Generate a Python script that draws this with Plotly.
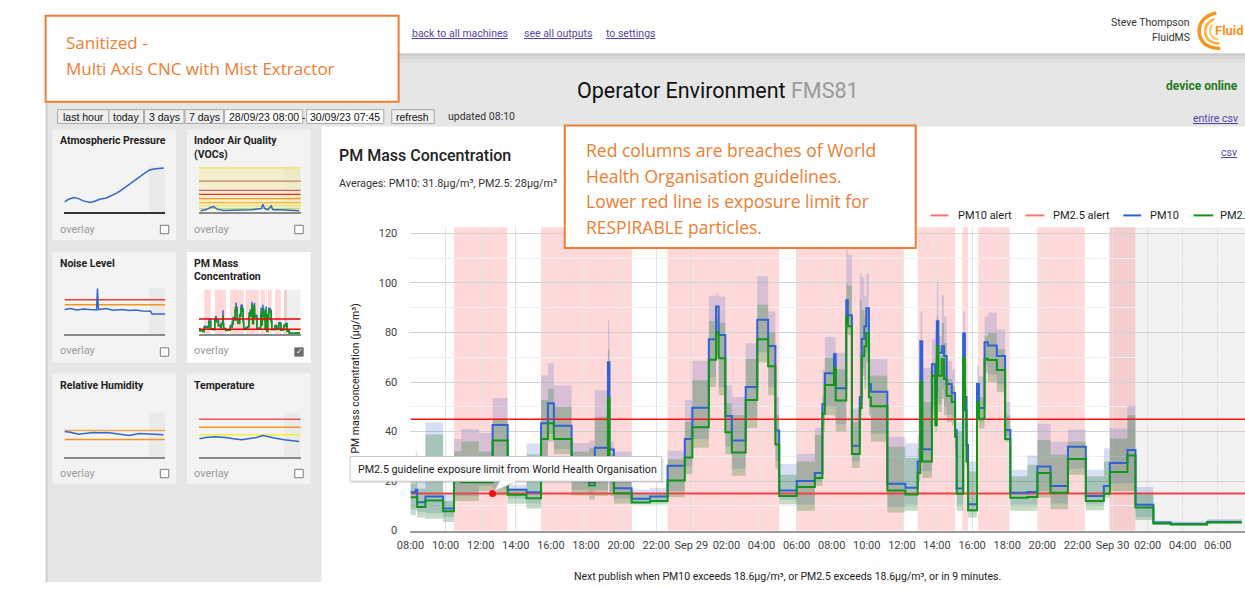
import pandas as pd
import plotly.graph_objects as go

W, H = 1245, 589
def X(p): return p / W
def Y(p): return 1 - p / H

# ---------------- main chart data (hours after 28/09/23 08:00) ----------------
seg_start_h = [0.00, 0.30, 0.38, 0.85, 1.86, 2.48, 2.90, 3.89, 4.68, 5.54, 6.61, 7.44, 7.83, 8.17, 9.18,
               10.18, 10.50, 11.25, 11.34, 11.59, 12.60, 13.65, 14.65, 15.63, 16.06, 17.00, 17.41, 17.56,
               17.94, 18.31, 19.10, 19.76, 20.38, 20.79, 21.01, 22.01, 23.04, 23.47, 23.61, 24.13, 24.23,
               24.83, 24.92, 25.15, 25.60, 25.71, 25.86, 25.97, 26.12, 26.23, 27.17, 28.20, 28.90, 29.05,
               29.16, 29.71, 29.90, 29.99, 30.08, 30.27, 30.40, 30.55, 30.84, 31.03, 31.12, 31.49, 31.59,
               31.68, 31.77, 32.28, 32.39, 32.71, 32.90, 33.41, 33.88, 34.18, 35.15, 35.72, 36.47, 37.46,
               38.48, 39.51, 39.85, 40.85, 41.31, 42.33, 43.32, 45.39]
data_end_h = 47.36

pm10 = [15.5, 16.5, 11.5, 13.8, 8.9, 24.0, 22.5, 23.0, 42.7, 16.5, 15.5, 43.4, 51.4, 42.3, 27.0,
        19.5, 33.5, 68.0, 32.8, 17.1, 12.9, 13.8, 26.2, 37.0, 49.6, 77.3, 90.5, 79.0,
        46.3, 36.4, 58.0, 85.2, 74.6, 40.4, 16.2, 20.0, 23.3, 51.0, 63.5, 71.2, 57.5,
        93.0, 87.0, 34.3, 53.9, 77.4, 82.5, 89.8, 59.2, 56.1, 18.9, 17.3, 27.9, 76.5,
        32.9, 67.2, 54.0, 84.5, 71.8, 74.5, 70.5, 59.2, 55.6, 40.6, 17.0, 79.6, 54.0,
        34.6, 10.6, 59.2, 49.5, 76.1, 74.8, 70.5, 40.6, 15.3, 15.6, 25.9, 18.0, 33.9,
        14.0, 18.0, 27.3, 32.6, 10.4, 3.3, 2.7, 3.5]
pm25 = [13.5, 13.5, 9.5, 12.2, 7.8, 20.0, 19.5, 19.5, 36.4, 14.5, 13.1, 37.0, 43.4, 37.0, 24.0,
        18.2, 28.0, 53.6, 28.0, 15.1, 11.4, 12.0, 20.2, 29.5, 41.7, 69.0, 80.0, 69.6,
        39.7, 31.5, 52.7, 77.3, 66.4, 34.8, 14.0, 17.6, 21.3, 47.2, 58.8, 65.8, 52.5,
        86.5, 82.5, 30.9, 49.5, 70.5, 74.5, 79.8, 53.9, 50.2, 16.2, 14.6, 23.3, 59.9,
        27.9, 62.5, 42.6, 74.5, 62.5, 69.2, 61.2, 54.5, 51.9, 37.9, 14.9, 69.8, 48.6,
        27.9, 8.2, 51.9, 45.2, 69.4, 68.9, 64.9, 37.0, 13.3, 13.6, 23.3, 15.3, 28.9,
        12.0, 14.9, 23.7, 30.3, 9.3, 2.9, 2.5, 3.3]
pm10_hi = [22, 32, 20, 43.8, 15, 37, 41, 39.4, 53.6, 18.5, 35.3, 62.7, 67.6, 58.7, 35.4,
           36.4, 56.7, 85, 36, 32, 16.5, 17.3, 32.4, 52.7, 68.6, 94.8, 96, 94.5,
           58.7, 54, 75.7, 102.7, 88.5, 54, 26.9, 30.9, 41.5, 65.2, 78.2, 78, 71.8,
           113.7, 111.5, 49.2, 103.8, 102.4, 94.5, 103.8, 69.2, 69.2, 37.9, 35.3, 38.6, 88.5,
           65.8, 77.2, 79.8, 100.4, 78.5, 95.1, 86.5, 68.5, 65.2, 43.9, 43.9, 88.5, 67.2,
           46.6, 27.9, 66.5, 62.5, 86.5, 88, 81.2, 51.9, 24.6, 30.3, 43.2, 35.9, 40.8,
           24.6, 33.3, 41.2, 50.5, 17.6, 4.0, 3.7, 4.7]
pm25_hi = [19, 20, 17, 38.8, 12, 32, 36, 32, 45.4, 17, 30.8, 52.7, 57.3, 50, 31.9,
           33.5, 46, 73, 31, 25.5, 14.9, 15.1, 28.8, 44, 60.7, 84.6, 86, 83.9,
           51.4, 46.7, 69.3, 91.2, 80, 46.7, 22.6, 27.9, 38.6, 54.5, 69.8, 72, 65.2,
           99.8, 99, 43.9, 93, 89, 86.5, 89, 62.5, 62.5, 33.9, 29.3, 33.3, 74.5,
           51.9, 67.8, 70, 86.5, 70.5, 83.8, 75.8, 61.2, 58.5, 39.9, 39.9, 78.5, 57.2,
           38.6, 23.9, 57.2, 53.9, 78.5, 79.8, 73.2, 46.6, 22, 26.6, 36.6, 30.6, 35.9,
           22, 27.9, 37.2, 46.6, 15.3, 3.6, 3.3, 4.2]
pm10_lo = [8.5, 10, 7.5, 7, 5.5, 14, 14, 18, 17, 13, 11, 28, 39, 33, 16.5,
           14.5, 16.5, 34, 16, 13, 11.5, 11.5, 16, 26, 37, 62, 74, 58,
           34, 25, 45, 72, 58, 28, 12.5, 10.5, 20, 43, 50, 50, 43,
           84, 82, 28, 48, 66, 61, 72, 50, 39, 9.5, 10.5, 22.5, 45,
           24, 50, 43, 56, 51, 57, 50, 47, 46, 33, 10.5, 56, 44,
           28, 7.5, 50, 44, 67, 63, 59, 38, 10.5, 10.5, 16, 11, 25,
           10.5, 15.5, 19, 19, 5.5, 2.7, 2.4, 3.2]
pm25_lo = [6.2, 8, 5.3, 4.8, 3.5, 12, 12, 16, 14.2, 10.9, 8.9, 25, 36, 30.8, 14.2,
           12.6, 14, 30, 14, 10.9, 10.5, 10.5, 13.5, 22.8, 33.5, 58, 70.6, 54.7,
           30.8, 22.2, 41.4, 68, 54.7, 24.8, 10.6, 8, 18, 40, 46.6, 46, 40,
           80, 79, 25.3, 45, 62.5, 57.2, 67.8, 46.6, 35.9, 7.3, 8, 20, 41.2,
           21.3, 46.6, 40, 51.9, 47.9, 53.2, 46.6, 43.9, 42.6, 30.6, 8, 51.9, 41.2,
           25.3, 5.3, 46.6, 41.2, 63.9, 59.9, 55.9, 35.9, 8, 8, 13.3, 8.6, 22.6,
           8.2, 13.3, 16, 16, 4.3, 2.4, 2.1, 2.9]

breach_start_h = [2.48, 7.44, 14.65, 21.97, 28.90, 31.44, 32.34, 35.72, 39.83]
breach_end_h = [5.52, 12.62, 21.01, 28.11, 31.04, 31.77, 34.14, 38.42, 41.30]
future_start_h = 39.83
pm10_alert = 45
pm25_alert = 15
tooltip_point_h = 4.68

tick_hours = list(range(0, 47, 2))
tick_labels = ["08:00", "10:00", "12:00", "14:00", "16:00", "18:00", "20:00", "22:00", "Sep 29",
               "02:00", "04:00", "06:00", "08:00", "10:00", "12:00", "14:00", "16:00", "18:00",
               "20:00", "22:00", "Sep 30", "02:00", "04:00", "06:00"]
day_lines_h = [16, 40]

# ---------------- thumbnail data ----------------
pressure_h = [0, 2, 4.3, 6.7, 9, 12.1, 14.4, 16.7, 19.8, 22.2, 24.5, 26.8, 29.1, 31.5, 33.8, 36.1, 38.4, 40, 42.3, 44.6, 47]
pressure = [1013.2, 1014.0, 1014.5, 1014.2, 1013.5, 1013.0, 1013.4, 1014.0, 1014.4, 1015.0, 1015.8, 1016.7,
            1017.8, 1018.8, 1020.0, 1021.0, 1022.0, 1022.8, 1023.2, 1023.4, 1023.5]
voc_h = [0.8, 3.1, 5.4, 6.9, 8.5, 11.6, 15.4, 20, 24.6, 29.3, 30, 30.8, 32.3, 33.9, 34.7, 38.5, 43.1, 47]
voc = [5, 8, 15, 18, 10, 6, 7, 8, 8, 12, 25, 12, 8, 20, 8, 8, 6, 5]
voc_levels = [135, 95, 67, 55, 42, 30, 20, 12]
voc_colors = ["#f1e65a", "#b5895a", "#c9607a", "#ee2a2a", "#f7941d", "#fbb03b", "#f5e663", "#c6e04a"]
noise_h = [0, 2.8, 5.9, 9, 12.1, 15.2, 15.65, 16.1, 19.8, 22.9, 27.6, 30.7, 33.8, 36.9, 40.8, 41.5, 47.75]
noise = [75, 78, 74, 77, 75, 74, 140, 75, 78, 73, 75, 72, 74, 71, 70, 62, 62]
noise_levels = [105, 90]
noise_colors = ["#ef3b3b", "#f7941d"]
rh_h = [0, 2.8, 6.7, 10.5, 13.6, 17.5, 19.8, 22.9, 26, 30.7, 35.3, 41.5, 46.9]
rh = [78, 76, 70, 73, 75, 74, 75, 73, 71, 66, 72, 71, 68]
rh_levels = [81, 54]
rh_colors = ["#f6a552", "#f7941d"]
temp_h = [0.3, 3.1, 7.7, 12.3, 16.2, 20, 23.1, 27, 30, 32.4, 35.4, 40, 44.7, 47]
temp = [56, 60, 62, 60, 56, 53, 56, 60, 66, 62, 58, 53, 50, 48]
temp_levels = [115, 91, 68]
temp_colors = ["#ee5555", "#f7941d", "#f5ee3a"]

# ---------------- build ----------------
t0 = pd.Timestamp("2023-09-28 08:00")
def T(h): return t0 + pd.Timedelta(hours=h)
def ext(v): return list(v) + [v[-1]]

x_end_h = 47.55
xs = [T(h) for h in seg_start_h + [data_end_h]]
hs = seg_start_h + [data_end_h]

BLUE = "#2f63d4"
GREEN = "#109618"
ORANGE = "#ED7D31"
LINK = "#5b45a8"

fig = go.Figure()
def sc(**kw):
    kw.setdefault("hoverinfo", "skip")
    kw.setdefault("showlegend", False)
    fig.add_trace(go.Scatter(**kw))

# bands
sc(x=xs, y=ext(pm10_lo), mode="lines", line=dict(width=0, shape="hv"))
sc(x=xs, y=ext(pm10_hi), mode="lines", line=dict(width=0, shape="hv"), fill="tonexty",
   fillcolor="rgba(60,90,200,0.2)")
sc(x=xs, y=ext(pm25_lo), mode="lines", line=dict(width=0, shape="hv"))
sc(x=xs, y=ext(pm25_hi), mode="lines", line=dict(width=0, shape="hv"), fill="tonexty",
   fillcolor="rgba(40,130,40,0.28)")
# alert lines
sc(x=[T(0), T(x_end_h)], y=[pm10_alert] * 2, mode="lines", line=dict(color="#ff1010", width=1.5), name="PM10 alert")
sc(x=[T(0), T(x_end_h)], y=[pm25_alert] * 2, mode="lines", line=dict(color="#f04444", width=2), name="PM2.5 alert")
# series
sc(x=xs, y=ext(pm10), mode="lines", line=dict(color=BLUE, width=2, shape="hv"), name="PM10")
sc(x=xs, y=ext(pm25), mode="lines", line=dict(color=GREEN, width=2, shape="hv"), name="PM2.5")
sc(x=[T(tooltip_point_h)], y=[pm25_alert], mode="markers", marker=dict(color="#ee1111", size=7))

# thumbnails: (axis n, x0, x1, ytop, ybottom, yrange, baseline color)
thumbs = {
    2: (51, 153, 168.3, 215, [1010, 1024], "#333333"),
    3: (187, 290, 168.3, 215, [0, 140], "#8a8a8a"),
    4: (51, 153, 291.7, 338.3, [0, 140], "#8a8a8a"),
    5: (187, 290, 293.3, 338.3, [0, 130], "#8a8a8a"),
    6: (51, 153, 417.7, 462.7, [0, 135], "#8a8a8a"),
    7: (187, 290, 417.7, 462.7, [0, 135], "#8a8a8a"),
}
TB = "#3366cc"
def levels(n, lv, cols, w=1.5):
    for v, c in zip(lv, cols):
        sc(x=[0, 47.75], y=[v, v], mode="lines", line=dict(color=c, width=w), xaxis=f"x{n}", yaxis=f"y{n}")

sc(x=pressure_h, y=pressure, mode="lines", line=dict(color=TB, width=1.5), xaxis="x2", yaxis="y2")
levels(3, voc_levels, voc_colors, 1.2)
sc(x=voc_h, y=voc, mode="lines", line=dict(color=TB, width=1.5), xaxis="x3", yaxis="y3")
levels(4, noise_levels, noise_colors)
sc(x=noise_h, y=noise, mode="lines", line=dict(color=TB, width=1.5), xaxis="x4", yaxis="y4")
sc(x=hs, y=ext(pm10), mode="lines", line=dict(color=BLUE, width=1.3, shape="hv"), xaxis="x5", yaxis="y5")
sc(x=hs, y=ext(pm25), mode="lines", line=dict(color=GREEN, width=1.6, shape="hv"), xaxis="x5", yaxis="y5")
levels(5, [pm10_alert, pm25_alert], ["#ee0000", "#ee0000"])
levels(6, rh_levels, rh_colors)
sc(x=rh_h, y=rh, mode="lines", line=dict(color=TB, width=1.5), xaxis="x6", yaxis="y6")
levels(7, temp_levels, temp_colors)
sc(x=temp_h, y=temp, mode="lines", line=dict(color=TB, width=1.5), xaxis="x7", yaxis="y7")

# ---------------- shapes ----------------
shapes = []
def rect(x0, y0, x1, y1, fill, line=None, lw=0, layer="below"):
    shapes.append(dict(type="rect", xref="paper", yref="paper", x0=X(x0), x1=X(x1), y0=Y(y1), y1=Y(y0),
                       fillcolor=fill, line=dict(color=line or "rgba(0,0,0,0)", width=lw), layer=layer))
def hline(x0, x1, y, color, w=1, layer="below"):
    shapes.append(dict(type="line", xref="paper", yref="paper", x0=X(x0), x1=X(x1), y0=Y(y), y1=Y(y),
                       line=dict(color=color, width=w), layer=layer))

# page background
rect(32, 55, 1245, 589, "#e6e6e6")
rect(32, 54, 1245, 57, "#cdcdcd")
rect(32, 57, 1245, 60, "#d8d8d8")
rect(32, 60, 1245, 63, "#e0e0e0")
rect(32, 104, 34, 589, "#cfcfcf")
# chart panel
rect(311, 128, 1245, 589, "#ffffff")
# sidebar panels
for (x0, y0, fill) in [(39, 131, "#f3f3f3"), (175, 131, "#f3f3f3"), (39, 255, "#f3f3f3"),
                       (175, 255, "#ffffff"), (39, 378, "#f3f3f3"), (175, 378, "#f3f3f3")]:
    rect(x0, y0, x0 + 125, y0 + 112, fill)
# checkboxes
for (cx, cy, checked) in [(148, 228, False), (284, 228, False), (148, 352, False), (284, 352, True),
                          (148, 475, False), (284, 475, False)]:
    shapes.append(dict(type="rect", xref="paper", yref="paper", x0=X(cx), x1=X(cx + 8.5), y0=Y(cy + 8.5), y1=Y(cy),
                       fillcolor="#6b6b6b" if checked else "#ffffff", line=dict(color="#7a7a7a", width=1), layer="above"))
# buttons
buttons = [(44, 96, "last hour", "#efefef"), (96, 131, "today", "#efefef"), (132, 172, "3 days", "#efefef"),
           (173, 212, "7 days", "#efefef"), (213, 292, "28/09/23 08:00", "#ffffff"),
           (296, 374, "30/09/23 07:45", "#ffffff"), (382, 425, "refresh", "#efefef")]
for (b0, b1, lab, f) in buttons:
    rect(b0, 111, b1, 125, f, "#a9a9a9", 1)

# main chart background regions
shapes.append(dict(type="rect", xref="x", yref="y domain", x0=T(future_start_h), x1=T(x_end_h), y0=0, y1=1,
                   fillcolor="#f2f2f2", line=dict(width=0), layer="below"))
for s, e in zip(breach_start_h, breach_end_h):
    shapes.append(dict(type="rect", xref="x", yref="y domain", x0=T(s), x1=T(e), y0=0, y1=1,
                       fillcolor="rgba(255,0,0,0.15)", line=dict(width=0), layer="below"))
for d in day_lines_h:
    shapes.append(dict(type="line", xref="x", yref="y domain", x0=T(d), x1=T(d), y0=0, y1=1,
                       line=dict(color="#c4c4c4", width=1), layer="below"))
# thumbnail background regions
for n in (2, 3, 4, 6, 7):
    shapes.append(dict(type="rect", xref=f"x{n}", yref=f"y{n} domain", x0=40, x1=47.75, y0=0, y1=1,
                       fillcolor="rgba(0,0,0,0.035)", line=dict(width=0), layer="below"))
shapes.append(dict(type="rect", xref="x3", yref="y3", x0=0, x1=47.75, y0=voc_levels[-1], y1=voc_levels[0],
                   fillcolor="rgba(245,235,160,0.45)", line=dict(width=0), layer="below"))
shapes.append(dict(type="rect", xref="x5", yref="y5 domain", x0=future_start_h, x1=47.75, y0=0, y1=1,
                   fillcolor="#f0f0f0", line=dict(width=0), layer="below"))
for s, e in zip(breach_start_h, breach_end_h):
    shapes.append(dict(type="rect", xref="x5", yref="y5 domain", x0=s, x1=e, y0=0, y1=1,
                       fillcolor="rgba(255,0,0,0.15)", line=dict(width=0), layer="below"))

# orange callout boxes
rect(32, 16, 389, 103, "#ffffff", ORANGE, 2, "above")
rect(557, 127, 912, 251, "#ffffff", ORANGE, 2, "above")
# tooltip
rect(341, 464, 657, 489, "rgba(0,0,0,0.10)", None, 0, "above")
rect(340, 462, 655, 487, "#ffffff", "#c8c8c8", 1, "above")
shapes.append(dict(type="path", xref="paper", yref="paper",
                   path=f"M {X(491)},{Y(487)} L {X(486)},{Y(497)} L {X(508)},{Y(487)} Z",
                   fillcolor="#ffffff", line=dict(color="#c8c8c8", width=1), layer="above"))
rect(492, 486, 507, 488.5, "#ffffff", None, 0, "above")
# legend lines
for (l0, l1, c) in [(927, 945, "#ff7070"), (1023, 1042, "#ff7070"), (1122, 1140, BLUE), (1193, 1213, GREEN)]:
    hline(l0, l1, 218, c, 2, "above")
# logo swirl
for (path, c, w) in [
    ("M 1216 13 Q 1196 18 1199 36 Q 1203 49 1220 49", "#f7941d", 3.5),
    ("M 1214 19 Q 1203 24 1205 35 Q 1208 44 1219 44", "#fbb040", 2.5),
    ("M 1212 25 Q 1209 29 1210 34 Q 1212 39 1218 40", "#fcc860", 2)]:
    pts = path.split()
    conv = []
    i = 0
    while i < len(pts):
        if pts[i] in ("M", "Q", "L"):
            conv.append(pts[i]); i += 1
        else:
            conv.append(f"{X(float(pts[i]))},{Y(float(pts[i+1]))}"); i += 2
    shapes.append(dict(type="path", xref="paper", yref="paper", path=" ".join(conv),
                       line=dict(color=c, width=w), layer="above"))

# ---------------- annotations ----------------
ann = []
def txt(x, y, s, size=11, color="#222222", xa="left", family="Roboto", angle=0, lineposition=None, weight=None):
    f = dict(family=family, size=size, color=color)
    if lineposition:
        f["lineposition"] = lineposition
    if weight:
        f["weight"] = weight
    ann.append(dict(x=X(x), y=Y(y), xref="paper", yref="paper", text=s, showarrow=False, xanchor=xa,
                    yanchor="middle", font=f, textangle=angle))

txt(51, 43, "Sanitized -", 17, ORANGE, family="Open Sans")
txt(51, 69, "Multi Axis CNC with Mist Extractor", 17, ORANGE, family="Open Sans")
for i, line in enumerate(["Red columns are breaches of World", "Health Organisation guidelines.",
                          "Lower red line is exposure limit for", "RESPIRABLE particles."]):
    txt(576, 152 + i * 25.8, line, 17.5, ORANGE, family="Open Sans")

txt(401, 34, "back to all machines", 10.5, LINK, lineposition="under")
txt(514, 34, "see all outputs", 10.5, LINK, lineposition="under")
txt(597, 34, "to settings", 10.5, LINK, lineposition="under")
txt(1191, 23, "Steve Thompson", 10.5, "#333333", "right")
txt(1191, 38, "FluidMS", 10.5, "#333333", "right")
txt(1213, 31, "<b>Fluid</b>", 13, "#f7941d")

txt(567, 92, "Operator Environment <span style='color:#9a9a9a'>FMS81</span>", 21.5, "#111111")
txt(1240, 87, "<b>device online</b>", 12, "#1e7b1e", "right")
txt(1240, 120, "entire csv", 10.5, LINK, "right", lineposition="under")

for (b0, b1, lab, f) in buttons:
    txt((b0 + b1) / 2, 118, lab, 10.5, "#111111", "center", family="Liberation Sans")
txt(293, 118, "-", 10.5, "#111111", "center", family="Liberation Sans")
txt(437, 118, "updated 08:10", 10.5, "#333333")

txt(327, 157, "PM Mass Concentration", 16, "#222222", weight=500)
txt(327, 186, "Averages: PM10: 31.8µg/m³, PM2.5: 28µg/m³", 10.8, "#333333")
txt(1239, 154, "csv", 10.5, LINK, "right", lineposition="under")
txt(345, 383, "PM mass concentration (µg/m³)", 10.5, "#222222", "center", angle=-90)
txt(953, 218, "PM10 alert", 11)
txt(1049, 218, "PM2.5 alert", 11)
txt(1147, 218, "PM10", 11)
txt(1218, 218, "PM2.5", 11)
txt(346, 475, "PM2.5 guideline exposure limit from World Health Organisation", 10.7, "#222222")
txt(782, 583, "Next publish when PM10 exceeds 18.6µg/m³, or PM2.5 exceeds 18.6µg/m³, or in 9 minutes.",
    10.5, "#222222", "center")

# sidebar texts
for (x, y, s) in [(44, 142, "Atmospheric Pressure"), (180, 142, "Indoor Air Quality"), (180, 156, "(VOCs)"),
                  (44, 267, "Noise Level"), (180, 267, "PM Mass"), (180, 280, "Concentration"),
                  (44, 390, "Relative Humidity"), (180, 390, "Temperature")]:
    txt(x, y, f"<b>{s}</b>", 10.5, "#222222")
for (x, y) in [(44, 232), (180, 232), (44, 355), (180, 355), (44, 479), (180, 479)]:
    txt(x, y, "overlay", 11, "#9b9b9b")
txt(288.5, 355.5, "✓", 8, "#ffffff", "center")

# ---------------- layout ----------------
layout = dict(
    width=W, height=H, autosize=False, margin=dict(l=0, r=0, t=0, b=0),
    paper_bgcolor="#ffffff", plot_bgcolor="rgba(0,0,0,0)", showlegend=False,
    font=dict(family="Roboto", size=11, color="#222222"),
    shapes=shapes, annotations=ann,
    xaxis=dict(domain=[X(401), 1.0], type="date", range=[T(0), T(x_end_h)], tickmode="array",
               tickvals=[T(h) for h in tick_hours], ticktext=tick_labels, showgrid=True, gridcolor="#e4e4e4",
               gridwidth=1, zeroline=False, showline=True, linecolor="#9a9a9a", linewidth=1.5, ticks="outside",
               ticklen=3, tickcolor="rgba(0,0,0,0)", tickfont=dict(family="Roboto", size=11, color="#444444"),
               fixedrange=True, anchor="y"),
    yaxis=dict(domain=[Y(537), Y(230)], range=[0, 122.5], tickmode="linear", tick0=0, dtick=20,
               showgrid=True, gridcolor="#d2d2d2", gridwidth=1, zeroline=False, showline=False,
               ticks="outside", ticklen=10, tickcolor="rgba(0,0,0,0)",
               tickfont=dict(family="Roboto", size=11, color="#444444"),
               minor=dict(tick0=0, dtick=10, showgrid=True, gridcolor="#efefef", ticklen=0),
               fixedrange=True, anchor="x"),
)
for n, (x0, x1, yt, yb, yr, lc) in thumbs.items():
    layout[f"xaxis{n}"] = dict(domain=[X(x0), X(x1)], range=[0, 47.75], anchor=f"y{n}", showgrid=False,
                               zeroline=False, showticklabels=False, showline=True, linecolor=lc,
                               linewidth=1.5, ticks="", fixedrange=True)
    layout[f"yaxis{n}"] = dict(domain=[Y(yb), Y(yt)], range=yr, anchor=f"x{n}", showgrid=False,
                               zeroline=False, showticklabels=False, showline=False, ticks="", fixedrange=True)
fig.update_layout(**layout)

fig.write_html("out.html", config={"displayModeBar": False},
               post_script="document.body.style.margin='0';document.body.style.padding='0';"
                           "document.documentElement.style.overflow='hidden';")
